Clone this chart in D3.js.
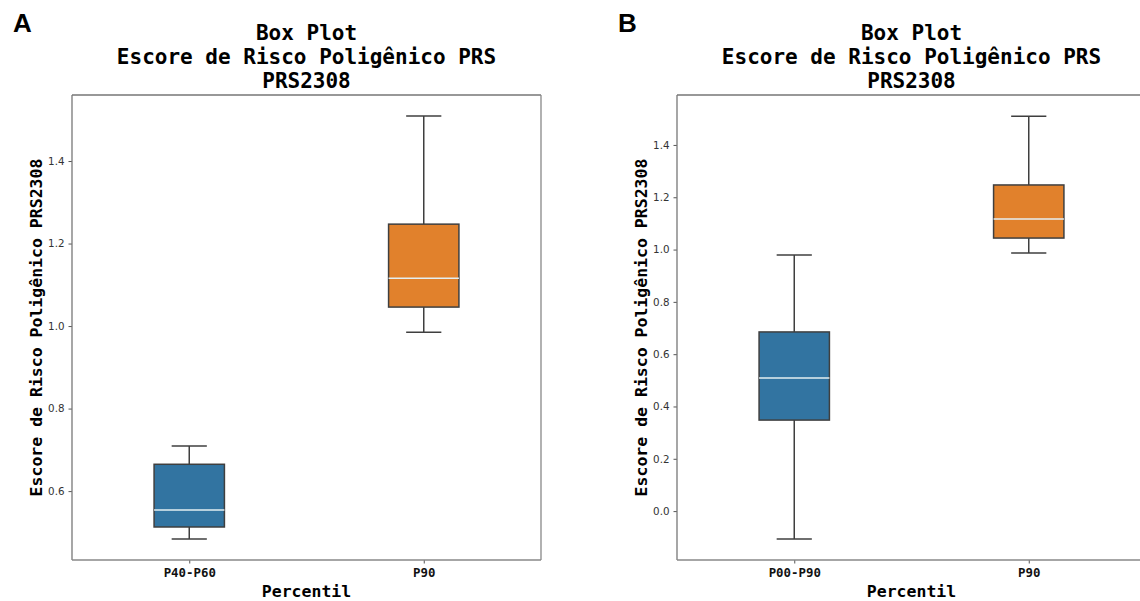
<!DOCTYPE html>
<meta charset="utf-8">
<html>
  <head>
    <style>
     body { margin: 0; background: #fff; }
     text.title { font-family: "DejaVu Sans Mono", monospace; font-weight: bold; font-size: 21px; fill: #000; }
     text.axis-label { font-family: "DejaVu Sans Mono", monospace; font-weight: bold; font-size: 16.5px; fill: #000; }
     text.panel { font-family: "Liberation Sans", Arial, sans-serif; font-weight: bold; font-size: 26px; fill: #000; }
     .y-axis text { font-family: "DejaVu Sans", sans-serif; font-size: 10.3px; fill: #333; }
     .x-axis text { font-family: "DejaVu Sans Mono", monospace; font-weight: bold; font-size: 12.4px; fill: #111; }
     .y-axis line, .x-axis line { stroke: #555; }
    </style>
    <script src="https://cdn.jsdelivr.net/npm/d3@7"></script>
  </head>
  <body>
    <div id="chart"></div>
    <script type="text/javascript">
     // panel A
     var categoriesA = ["P40-P60", "P90"],
         whiskerLowA = [0.484, 0.985],
         q1A = [0.513, 1.046],
         medianA = [0.554, 1.116],
         q3A = [0.665, 1.247],
         whiskerHighA = [0.709, 1.509],
         yTicksA = [0.6, 0.8, 1.0, 1.2, 1.4],
         yDomainA = [0.433, 1.56];

     // panel B
     var categoriesB = ["P00-P90", "P90"],
         whiskerLowB = [-0.107, 0.987],
         q1B = [0.348, 1.044],
         medianB = [0.509, 1.117],
         q3B = [0.685, 1.247],
         whiskerHighB = [0.979, 1.51],
         yTicksB = [0.0, 0.2, 0.4, 0.6, 0.8, 1.0, 1.2, 1.4],
         yDomainB = [-0.187, 1.591];

     var titleLines = ["Box Plot", "Escore de Risco Poligênico PRS", "PRS2308"],
         yLabel = "Escore de Risco Poligênico PRS2308",
         xLabel = "Percentil",
         colors = ["#3274a1", "#e1812c"];

     var W = 1140, H = 601,
         plotW = 469, plotH = 465, plotTop = 95,
         boxWidth = 0.3, capWidth = 0.15;

     var svg = d3.select("#chart").append("svg")
                 .attr("width", W)
                 .attr("height", H);

     function drawPanel(opts) {
       var g = svg.append("g")
                  .attr("transform", "translate(" + opts.left + "," + plotTop + ")");

       var x = d3.scaleLinear().domain([-0.5, opts.categories.length - 0.5]).range([0, plotW]);
       var y = d3.scaleLinear().domain(opts.yDomain).range([plotH, 0]);

       // panel letter
       svg.append("text").attr("class", "panel")
          .attr("x", opts.left - 59).attr("y", 32)
          .text(opts.letter);

       // title
       titleLines.forEach(function (t, i) {
         g.append("text").attr("class", "title")
          .attr("x", plotW / 2).attr("y", 40 - plotTop + i * 24)
          .attr("text-anchor", "middle")
          .text(t);
       });

       // axes
       var yAxis = d3.axisLeft(y).tickValues(opts.yTicks).tickSize(3.5).tickPadding(4)
                     .tickFormat(d3.format(".1f"));
       g.append("g").attr("class", "y-axis").call(yAxis)
        .call(function (s) { s.select(".domain").remove(); });

       var xAxis = d3.axisBottom(x).tickValues(d3.range(opts.categories.length))
                     .tickSize(3.5).tickPadding(5)
                     .tickFormat(function (i) { return opts.categories[i]; });
       g.append("g").attr("class", "x-axis")
        .attr("transform", "translate(0," + plotH + ")")
        .call(xAxis)
        .call(function (s) { s.select(".domain").remove(); });

       // boxes
       var data = opts.categories.map(function (c, i) {
         return { i: i, lo: opts.lo[i], q1: opts.q1[i], med: opts.med[i], q3: opts.q3[i], hi: opts.hi[i] };
       });

       var box = g.selectAll(".box").data(data).enter().append("g").attr("class", "box");
       var stroke = "#3f3f3f";

       box.append("line")
          .attr("x1", function (d) { return x(d.i); }).attr("x2", function (d) { return x(d.i); })
          .attr("y1", function (d) { return y(d.q3); }).attr("y2", function (d) { return y(d.hi); })
          .attr("stroke", stroke).attr("stroke-width", 1.5);
       box.append("line")
          .attr("x1", function (d) { return x(d.i); }).attr("x2", function (d) { return x(d.i); })
          .attr("y1", function (d) { return y(d.q1); }).attr("y2", function (d) { return y(d.lo); })
          .attr("stroke", stroke).attr("stroke-width", 1.5);
       ["hi", "lo"].forEach(function (k) {
         box.append("line")
            .attr("x1", function (d) { return x(d.i - capWidth / 2); })
            .attr("x2", function (d) { return x(d.i + capWidth / 2); })
            .attr("y1", function (d) { return y(d[k]); }).attr("y2", function (d) { return y(d[k]); })
            .attr("stroke", stroke).attr("stroke-width", 1.5);
       });
       box.append("rect")
          .attr("x", function (d) { return x(d.i - boxWidth / 2); })
          .attr("width", x(boxWidth) - x(0))
          .attr("y", function (d) { return y(d.q3); })
          .attr("height", function (d) { return y(d.q1) - y(d.q3); })
          .attr("fill", function (d) { return colors[d.i]; })
          .attr("stroke", stroke).attr("stroke-width", 1.5);
       box.append("line")
          .attr("x1", function (d) { return x(d.i - boxWidth / 2); })
          .attr("x2", function (d) { return x(d.i + boxWidth / 2); })
          .attr("y1", function (d) { return y(d.med); }).attr("y2", function (d) { return y(d.med); })
          .attr("stroke", "#e4eff2").attr("stroke-width", 1.5);

       // spines
       g.append("line").attr("x1", 0).attr("x2", plotW).attr("y1", 0).attr("y2", 0)
        .attr("stroke", "#333").attr("stroke-width", 1.2);
       g.append("line").attr("x1", 0).attr("x2", 0).attr("y1", 0).attr("y2", plotH)
        .attr("stroke", "#777").attr("stroke-width", 1.3);
       g.append("line").attr("x1", 0).attr("x2", plotW).attr("y1", plotH).attr("y2", plotH)
        .attr("stroke", "#888").attr("stroke-width", 1.3);
       g.append("line").attr("x1", plotW).attr("x2", plotW).attr("y1", 0).attr("y2", plotH)
        .attr("stroke", "#888").attr("stroke-width", 1.3);

       // axis labels
       g.append("text").attr("class", "axis-label")
        .attr("text-anchor", "middle")
        .attr("transform", "translate(-30," + plotH / 2 + ") rotate(-90)")
        .text(yLabel);
       g.append("text").attr("class", "axis-label")
        .attr("text-anchor", "middle")
        .attr("x", plotW / 2).attr("y", 597 - plotTop)
        .text(xLabel);
     }

     drawPanel({ left: 72, letter: "A", categories: categoriesA,
                 lo: whiskerLowA, q1: q1A, med: medianA, q3: q3A, hi: whiskerHighA,
                 yTicks: yTicksA, yDomain: yDomainA });
     drawPanel({ left: 677, letter: "B", categories: categoriesB,
                 lo: whiskerLowB, q1: q1B, med: medianB, q3: q3B, hi: whiskerHighB,
                 yTicks: yTicksB, yDomain: yDomainB });
    </script>
  </body>
</html>
